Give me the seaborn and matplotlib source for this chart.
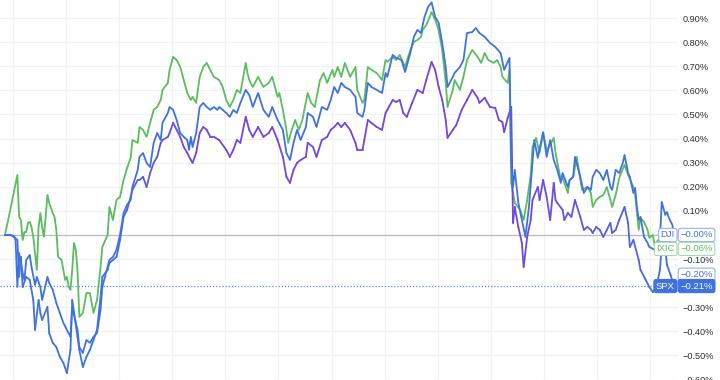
import numpy as np
import pandas as pd
import seaborn as sns
import matplotlib
matplotlib.use("Agg")
import matplotlib.pyplot as plt
from matplotlib.collections import LineCollection
from matplotlib.colors import to_rgb
import matplotlib.transforms as mtransforms

# ---------------- data (minutes since start, % change) ----------------
ixic_min = [0, 3, 7, 8, 9, 10, 11, 12, 13, 14, 15, 16, 17, 18, 19, 20, 21, 22, 23, 24, 25, 27, 28, 29, 30,
            32, 33, 34, 35, 36, 37, 38, 39, 40, 41, 42, 44, 46, 48, 50, 52, 54, 55, 58, 59, 61, 63, 65, 67,
            69, 71, 72, 75, 76, 78, 80, 82, 84, 86, 88, 89, 92, 93, 95, 97, 99, 101, 103, 105, 106, 108,
            110, 112, 114, 116, 118, 121, 123, 125, 127, 129, 131, 133, 136, 137, 138, 140, 143, 146, 149,
            151, 154, 155, 157, 159, 160, 162, 164, 166, 168, 171, 173, 175, 178, 180, 182, 185, 186, 188,
            190, 192, 195, 198, 199, 202, 203, 205, 207, 210, 213, 215, 216, 219, 221, 223, 226, 229, 231,
            233, 235, 236, 238, 240, 241, 243, 245, 247, 249, 250, 253, 254, 257, 259, 261, 264, 267, 269,
            271, 273, 276, 278, 280, 281, 284, 285, 286, 288, 291, 293, 295, 297, 298, 300, 302, 304, 306,
            308, 310, 311, 314, 315, 318, 319, 321, 323, 326, 329, 331, 332, 334, 336, 338, 340, 342, 343,
            345, 347, 350, 352, 355, 356, 358, 359, 361, 363, 364, 366, 367, 369, 371, 373, 374, 377]
ixic_pct = [0.0, 0.104, 0.249, 0.075, 0.062, -0.021, 0.012, 0.012, 0.050, 0.054, 0.033, -0.008, -0.075,
            -0.145, 0.033, 0.091, 0.033, -0.008, 0.075, 0.166, 0.133, 0.091, 0.075, 0.021, -0.091,
            -0.104, -0.145, -0.187, -0.174, -0.216, -0.228, -0.145, -0.033, -0.062, -0.145, -0.340,
            -0.324, -0.241, -0.241, -0.324, -0.270, -0.133, -0.050, 0.000, 0.116, 0.062, 0.145, 0.158,
            0.228, 0.278, 0.320, 0.394, 0.382, 0.448, 0.436, 0.407, 0.465, 0.519, 0.531, 0.560, 0.602,
            0.631, 0.685, 0.739, 0.726, 0.697, 0.643, 0.589, 0.560, 0.573, 0.548, 0.656, 0.697, 0.714,
            0.685, 0.656, 0.643, 0.614, 0.560, 0.531, 0.560, 0.602, 0.589, 0.714, 0.672, 0.643, 0.614,
            0.656, 0.614, 0.631, 0.656, 0.573, 0.589, 0.519, 0.436, 0.382, 0.436, 0.477, 0.436, 0.477,
            0.589, 0.548, 0.531, 0.643, 0.672, 0.631, 0.685, 0.656, 0.697, 0.656, 0.714, 0.656, 0.697,
            0.602, 0.548, 0.560, 0.697, 0.685, 0.672, 0.643, 0.726, 0.718, 0.739, 0.726, 0.747, 0.697,
            0.768, 0.801, 0.809, 0.822, 0.851, 0.871, 0.905, 0.925, 0.892, 0.851, 0.768, 0.631, 0.531,
            0.602, 0.643, 0.602, 0.656, 0.726, 0.768, 0.739, 0.714, 0.755, 0.726, 0.714, 0.726, 0.697,
            0.656, 0.631, 0.685, 0.216, 0.133, 0.104, 0.062, 0.145, 0.249, 0.365, 0.403, 0.340, 0.423,
            0.353, 0.374, 0.403, 0.340, 0.228, 0.237, 0.174, 0.228, 0.241, 0.324, 0.187, 0.199, 0.174,
            0.116, 0.145, 0.158, 0.166, 0.199, 0.145, 0.116, 0.166, 0.237, 0.291, 0.249, 0.199, 0.166,
            0.021, 0.071, 0.054, 0.021, -0.012, 0.000, -0.042, -0.021, -0.012, -0.033, -0.054, -0.060]

dji_min = [0, 3, 5, 6, 7, 8, 10, 11, 12, 14, 15, 17, 18, 20, 21, 24, 25, 27, 29, 31, 33, 35, 37, 38, 41,
           42, 44, 46, 48, 50, 52, 54, 55, 58, 59, 61, 63, 65, 67, 69, 71, 72, 75, 76, 78, 80, 82, 84, 86,
           88, 89, 92, 93, 95, 97, 99, 101, 103, 104, 105, 106, 108, 110, 112, 114, 116, 118, 120, 121,
           123, 125, 127, 129, 131, 133, 136, 138, 140, 143, 146, 149, 151, 154, 157, 159, 161, 163, 165,
           167, 170, 171, 174, 176, 179, 182, 184, 186, 188, 190, 192, 195, 198, 199, 202, 203, 205, 207,
           210, 213, 215, 216, 219, 221, 224, 226, 229, 231, 233, 235, 237, 239, 241, 243, 245, 247, 249,
           250, 253, 254, 257, 259, 261, 264, 266, 268, 271, 274, 277, 280, 282, 285, 286, 287, 288, 290,
           292, 294, 296, 298, 299, 301, 304, 306, 308, 310, 312, 314, 315, 318, 319, 321, 322, 325, 327,
           329, 331, 332, 334, 336, 338, 340, 342, 343, 345, 347, 349, 350, 352, 353, 355, 356, 357, 358,
           359, 361, 363, 364, 367, 369, 370, 371, 373, 374, 375, 377, 378]
dji_pct = [0.0, 0.0, -0.004, -0.021, -0.216, -0.075, -0.158, -0.187, -0.104, -0.083, -0.133, -0.208,
           -0.174, -0.216, -0.270, -0.174, -0.199, -0.228, -0.282, -0.324, -0.365, -0.394, -0.423, -0.299,
           -0.394, -0.465, -0.490, -0.436, -0.448, -0.423, -0.407, -0.311, -0.216, -0.133, -0.104, -0.091,
           -0.062, 0.000, 0.091, 0.125, 0.145, 0.199, 0.270, 0.324, 0.340, 0.299, 0.282, 0.382, 0.423,
           0.394, 0.465, 0.506, 0.531, 0.519, 0.477, 0.423, 0.407, 0.394, 0.353, 0.407, 0.365, 0.423,
           0.531, 0.548, 0.531, 0.519, 0.531, 0.519, 0.531, 0.519, 0.506, 0.490, 0.519, 0.506, 0.548,
           0.602, 0.581, 0.531, 0.589, 0.519, 0.490, 0.531, 0.477, 0.436, 0.340, 0.311, 0.382, 0.436,
           0.394, 0.448, 0.506, 0.490, 0.448, 0.531, 0.519, 0.560, 0.614, 0.589, 0.631, 0.614, 0.602,
           0.573, 0.506, 0.490, 0.519, 0.631, 0.614, 0.602, 0.589, 0.672, 0.656, 0.747, 0.735, 0.726,
           0.676, 0.755, 0.822, 0.851, 0.838, 0.905, 0.946, 0.965, 0.905, 0.880, 0.797, 0.697, 0.614,
           0.656, 0.672, 0.697, 0.726, 0.838, 0.842, 0.859, 0.838, 0.822, 0.797, 0.780, 0.755, 0.685,
           0.735, 0.299, 0.199, 0.270, 0.133, 0.062, -0.008, 0.116, 0.299, 0.394, 0.320, 0.427, 0.324,
           0.394, 0.311, 0.270, 0.216, 0.257, 0.199, 0.228, 0.241, 0.324, 0.241, 0.174, 0.199, 0.187,
           0.241, 0.270, 0.257, 0.228, 0.270, 0.199, 0.187, 0.270, 0.257, 0.299, 0.332, 0.257, 0.241,
           0.174, 0.195, 0.116, 0.062, 0.075, -0.008, -0.033, -0.050, -0.062, -0.083, -0.021, 0.137,
           0.083, 0.095, 0.071, 0.042, 0.000]

spx_min = [0, 3, 5, 7, 8, 9, 10, 12, 14, 16, 17, 19, 20, 21, 24, 25, 27, 29, 31, 33, 35, 37, 38, 41, 42,
           44, 46, 48, 50, 52, 54, 55, 58, 59, 61, 63, 65, 67, 69, 71, 72, 75, 76, 78, 80, 82, 84, 86, 88,
           89, 92, 93, 95, 97, 99, 101, 103, 105, 106, 108, 110, 112, 114, 116, 118, 121, 125, 127, 129,
           131, 133, 136, 138, 140, 143, 146, 149, 151, 154, 157, 159, 161, 163, 165, 167, 170, 171, 174,
           176, 179, 182, 184, 186, 188, 190, 192, 195, 198, 199, 202, 203, 205, 207, 210, 213, 215, 216,
           219, 221, 223, 225, 227, 230, 233, 236, 238, 241, 243, 245, 247, 249, 250, 253, 255, 258, 261,
           264, 267, 268, 271, 274, 277, 279, 281, 282, 284, 286, 287, 288, 290, 292, 293, 295, 297, 298,
           301, 302, 304, 306, 308, 310, 311, 312, 315, 316, 318, 320, 322, 325, 327, 329, 331, 332, 334,
           336, 338, 340, 342, 343, 345, 347, 350, 352, 353, 355, 358, 359, 362, 364, 366, 368, 370, 371,
           373, 374, 376, 378]
spx_pct = [0.0, 0.0, -0.008, -0.021, -0.174, -0.091, -0.216, -0.174, -0.187, -0.270, -0.394, -0.270,
           -0.324, -0.353, -0.299, -0.407, -0.448, -0.465, -0.506, -0.531, -0.573, -0.477, -0.270, -0.423,
           -0.477, -0.548, -0.506, -0.477, -0.436, -0.394, -0.257, -0.174, -0.145, -0.116, -0.104, -0.091,
           -0.021, 0.075, 0.104, 0.158, 0.187, 0.228, 0.228, 0.241, 0.199, 0.257, 0.299, 0.324, 0.382,
           0.394, 0.407, 0.423, 0.465, 0.436, 0.407, 0.365, 0.340, 0.311, 0.299, 0.340, 0.423, 0.448,
           0.436, 0.407, 0.407, 0.394, 0.353, 0.324, 0.353, 0.394, 0.382, 0.490, 0.436, 0.407, 0.448,
           0.407, 0.423, 0.448, 0.394, 0.324, 0.241, 0.216, 0.270, 0.299, 0.311, 0.324, 0.382, 0.365,
           0.324, 0.394, 0.407, 0.436, 0.448, 0.465, 0.448, 0.465, 0.436, 0.382, 0.353, 0.353, 0.394,
           0.477, 0.465, 0.448, 0.436, 0.506, 0.519, 0.560, 0.552, 0.560, 0.506, 0.490, 0.548, 0.602,
           0.589, 0.643, 0.718, 0.685, 0.614, 0.560, 0.477, 0.403, 0.436, 0.457, 0.519, 0.560, 0.602,
           0.569, 0.548, 0.569, 0.531, 0.527, 0.477, 0.469, 0.427, 0.486, 0.531, 0.050, 0.116, 0.033,
           -0.033, -0.133, -0.008, 0.062, 0.145, 0.199, 0.145, 0.228, 0.158, 0.062, 0.216, 0.145, 0.133,
           0.104, 0.062, 0.091, 0.075, 0.145, 0.075, 0.021, 0.033, 0.021, 0.008, 0.033, 0.021, -0.008,
           0.021, 0.050, 0.008, 0.021, 0.062, 0.116, 0.050, -0.050, -0.021, -0.104, -0.145, -0.187,
           -0.216, -0.237, -0.216, -0.145, -0.042, -0.062, -0.125, -0.166, -0.212]

symbols = ["DJI", "IXIC", "", "SPX"]
last_values = [-0.00, -0.06, -0.20, -0.21]
tick_values = [0.9, 0.8, 0.7, 0.6, 0.5, 0.4, 0.3, 0.2, 0.1, -0.1, -0.3, -0.4, -0.5, -0.6]

# ---------------- style ----------------
GREEN = "#5bbd5e"
BLUE = "#3f72e0"
PURPLE = "#7446dc"
GRID = "#f1f2f6"

sns.set_style("white")
plt.rcParams["font.family"] = ["Liberation Sans", "DejaVu Sans"]


def fmt(v):
    s = f"{abs(v):.2f}%"
    return ("\u2212" + s) if v < 0 or (v == 0 and str(v).startswith("-")) else s


fig = plt.figure(figsize=(7.2, 3.8), dpi=100)
ax = fig.add_axes([0, 0, 678 / 720, 1])

df_ixic = pd.DataFrame({"minute": ixic_min, "pct": ixic_pct})
df_dji = pd.DataFrame({"minute": dji_min, "pct": dji_pct})
df_spx = pd.DataFrame({"minute": spx_min, "pct": spx_pct})

sns.lineplot(data=df_ixic, x="minute", y="pct", color=GREEN, lw=1.3, estimator=None, sort=False, ax=ax, zorder=3)

# SPX gradient line (blue -> purple -> blue)
xs = np.asarray(spx_min, float)
ys = np.asarray(spx_pct, float)
pts = np.column_stack([xs, ys]).reshape(-1, 1, 2)
segs = np.concatenate([pts[:-1], pts[1:]], axis=1)
mid = (xs[:-1] + xs[1:]) / 2
frac = np.interp(mid, [0, 62, 100, 284, 330, 378], [0, 0, 1, 1, 0.55, 0.1])
c0, c1 = np.array(to_rgb(BLUE)), np.array(to_rgb(PURPLE))
cols = c0[None, :] * (1 - frac[:, None]) + c1[None, :] * frac[:, None]
lc = LineCollection(segs, colors=cols, linewidths=1.3, zorder=4, capstyle="round", joinstyle="round")
ax.add_collection(lc)

sns.lineplot(data=df_dji, x="minute", y="pct", color=BLUE, lw=1.3, estimator=None, sort=False, ax=ax, zorder=5)

ax.set_xlim(-2.8, 380.2)
ax.set_ylim(-0.602, 0.975)

# grid
ax.set_xticks(np.arange(4.5, 380, 30))
ax.set_xticklabels([])
ax.set_yticks(tick_values)
ax.set_yticklabels([fmt(v) for v in tick_values])
ax.grid(True, color=GRID, lw=0.9)
ax.set_axisbelow(True)
ax.yaxis.tick_right()
ax.tick_params(axis="y", length=0, pad=3.6, labelsize=6.6, labelcolor="#2a2e39")
ax.tick_params(axis="x", length=0)
for s in ax.spines.values():
    s.set_visible(False)
ax.set_xlabel("")
ax.set_ylabel("")

# zero line and SPX level line
ax.axhline(0, color="#b7bac4", lw=0.9, zorder=2)
ax.axhline(last_values[3], color="#6f86e6", lw=0.9, ls=(0, (1, 1.5)), zorder=2)

# value labels on the right
trans = mtransforms.blended_transform_factory(ax.transAxes, ax.transData)
label_y = [0.0, -0.058, -0.165, -0.212]
name_style = [
    dict(color="#4b6fd6", ec="#9bb0ec", fc="white"),
    dict(color="#5bbd5e", ec="#a5dca6", fc="white"),
    None,
    dict(color="white", ec=BLUE, fc=BLUE),
]
val_style = [
    dict(color="#4b6fd6", ec="#9bb0ec", fc="white"),
    dict(color="#5bbd5e", ec="#a5dca6", fc="white"),
    dict(color="#4b6fd6", ec="#9bb0ec", fc="white"),
    dict(color="white", ec=BLUE, fc=BLUE),
]
for sym, v, yy, ns, vs in zip(symbols, last_values, label_y, name_style, val_style):
    if sym:
        ax.text(0.9955, yy, sym, transform=trans, ha="right", va="center", fontsize=6.8,
                color=ns["color"], clip_on=False, zorder=10,
                bbox=dict(boxstyle="round,pad=0.22,rounding_size=0.25", fc=ns["fc"], ec=ns["ec"], lw=0.8))
    txt = "\u2212" + f"{abs(v):.2f}%"
    ax.text(1.0035, yy, txt, transform=trans, ha="left", va="center", fontsize=6.8,
            color=vs["color"], clip_on=False, zorder=10,
            bbox=dict(boxstyle="round,pad=0.22,rounding_size=0.25", fc=vs["fc"], ec=vs["ec"], lw=0.8))

fig.savefig("out.png", dpi=100)
